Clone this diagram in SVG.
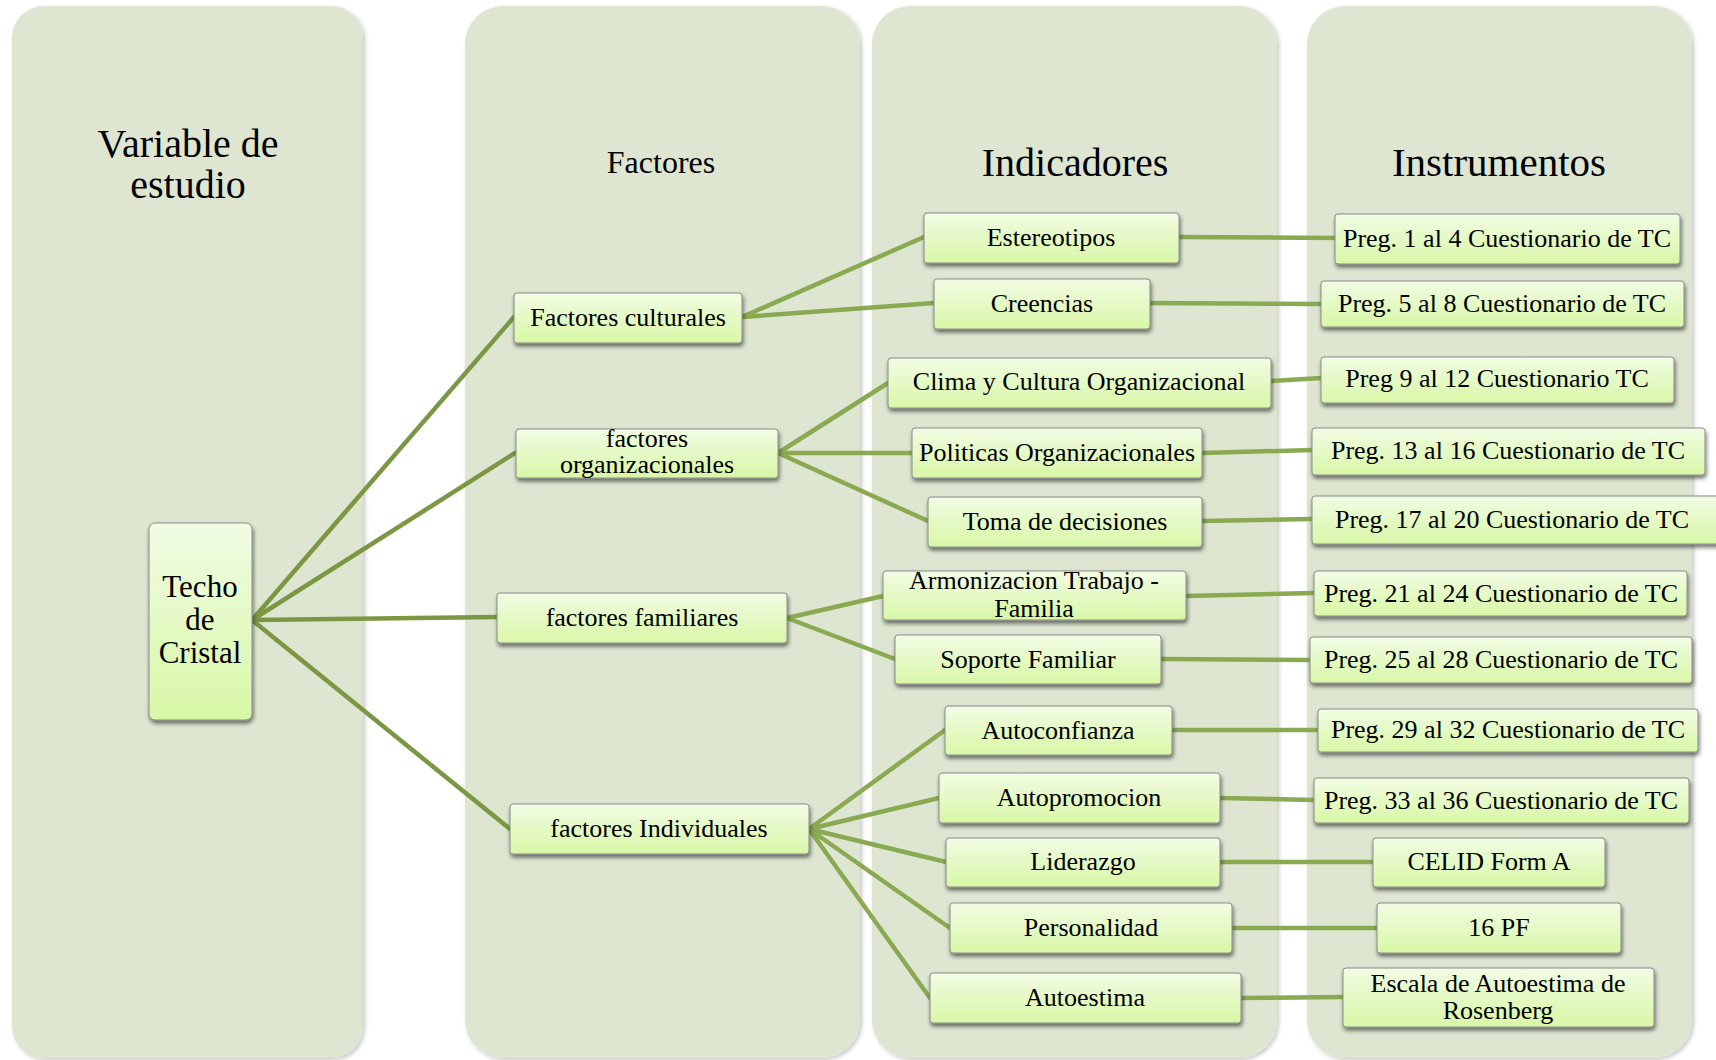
<svg xmlns="http://www.w3.org/2000/svg" width="1716" height="1060" viewBox="0 0 1716 1060">
<defs>
<linearGradient id="ng" x1="0" y1="0" x2="0" y2="1">
<stop offset="0" stop-color="#f1fce4"/>
<stop offset="1" stop-color="#d8f7a6"/>
</linearGradient>
<filter id="cs" x="-5%" y="-5%" width="110%" height="110%">
<feDropShadow dx="2" dy="2" stdDeviation="2" flood-color="#000" flood-opacity="0.22"/>
</filter>
<filter id="ns" x="-10%" y="-20%" width="120%" height="160%">
<feDropShadow dx="1" dy="3" stdDeviation="2" flood-color="#000" flood-opacity="0.55"/>
</filter>
</defs>
<style>
.col{fill:#dee6d2;filter:url(#cs)}
.hd{font-family:"Liberation Serif","Times New Roman",serif;fill:#000;text-anchor:middle}
.box{fill:url(#ng);stroke:#8a8a8a;stroke-width:1;filter:url(#ns)}
.t{font-family:"Liberation Serif","Times New Roman",serif;font-size:26px;fill:#000;text-anchor:middle}
.tb{font-size:31px}
.c1{stroke:#7a9843;stroke-width:4.5;fill:none;stroke-linecap:round}
.c2{stroke:#8aaa52;stroke-width:4.5;fill:none;stroke-linecap:round}
</style>
<rect width="1716" height="1060" fill="#fff"/>
<g id="columns">
<rect class="col" x="12" y="6" width="351" height="1052" rx="32"/>
<rect class="col" x="465" y="6" width="395" height="1052" rx="38"/>
<rect class="col" x="872" y="6" width="405" height="1052" rx="38"/>
<rect class="col" x="1307" y="6" width="385" height="1052" rx="38"/>
</g>
<g id="headings">
<text class="hd" font-size="40" x="188" y="157">Variable de</text>
<text class="hd" font-size="40" x="188" y="198">estudio</text>
<text class="hd" font-size="32" x="661" y="173">Factores</text>
<text class="hd" font-size="40" x="1075" y="176">Indicadores</text>
<text class="hd" font-size="41" x="1499" y="176">Instrumentos</text>
</g>
<g id="connectors">
<path class="c1" d="M252,620 L514,317 M252,620 L515,453 M252,620 L497,617 M252,620 L510,829"/>
<path class="c2" d="M742,317 L924,237 M742,317 L934,303"/>
<path class="c2" d="M778,453 L888,383 M778,453 L912,453 M778,453 L928,521"/>
<path class="c2" d="M787,618 L883,596 M787,618 L895,659"/>
<path class="c2" d="M809,829 L945,730 M809,829 L939,798 M809,829 L946,862 M809,829 L950,928 M809,829 L930,998"/>
<path class="c2" d="M1179,237 L1335,238 M1150,303 L1321,304 M1271,381 L1321,378 M1202,453 L1312,450 M1202,521 L1312,519 M1186,596 L1314,593 M1161,659 L1310,660 M1172,730 L1318,730 M1220,798 L1314,800 M1220,862 L1373,862 M1232,928 L1377,928 M1241,998 L1343,997"/>
</g>
<g id="n-techo">
<rect class="box" x="149" y="523" width="103" height="197" rx="6"/>
<text class="t tb" x="200" y="597">Techo</text>
<text class="t tb" x="200" y="630">de</text>
<text class="t tb" x="200" y="663">Cristal</text>
</g>
<g id="n-fcult"><rect class="box" x="514" y="293" width="228" height="50" rx="3"/><text class="t" x="628" y="326">Factores culturales</text></g>
<g id="n-forg"><rect class="box" x="516" y="429" width="262" height="49" rx="3"/><text class="t" x="647" y="447">factores</text><text class="t" x="647" y="473">organizacionales</text></g>
<g id="n-ffam"><rect class="box" x="497" y="593" width="290" height="50" rx="3"/><text class="t" x="642" y="626">factores familiares</text></g>
<g id="n-find"><rect class="box" x="510" y="804" width="299" height="50" rx="3"/><text class="t" x="659" y="837">factores Individuales</text></g>

<g id="n-estereotipos"><rect class="box" x="924" y="213" width="255" height="50" rx="3"/><text class="t" x="1051" y="246">Estereotipos</text></g>
<g id="n-creencias"><rect class="box" x="934" y="279" width="216" height="50" rx="3"/><text class="t" x="1042" y="312">Creencias</text></g>
<g id="n-clima"><rect class="box" x="888" y="358" width="383" height="50" rx="3"/><text class="t" x="1079" y="390">Clima y Cultura Organizacional</text></g>
<g id="n-politicas"><rect class="box" x="912" y="428" width="290" height="50" rx="3"/><text class="t" x="1057" y="461">Politicas Organizacionales</text></g>
<g id="n-toma"><rect class="box" x="928" y="497" width="274" height="50" rx="3"/><text class="t" x="1065" y="530">Toma de decisiones</text></g>
<g id="n-armonizacion"><rect class="box" x="883" y="571" width="303" height="49" rx="3"/><text class="t" x="1034" y="589">Armonizacion Trabajo -</text><text class="t" x="1034" y="617">Familia</text></g>
<g id="n-soporte"><rect class="box" x="895" y="635" width="266" height="49" rx="3"/><text class="t" x="1028" y="668">Soporte Familiar</text></g>
<g id="n-autoconfianza"><rect class="box" x="945" y="706" width="227" height="49" rx="3"/><text class="t" x="1058" y="739">Autoconfianza</text></g>
<g id="n-autopromocion"><rect class="box" x="939" y="773" width="281" height="50" rx="3"/><text class="t" x="1079" y="806">Autopromocion</text></g>
<g id="n-liderazgo"><rect class="box" x="946" y="838" width="274" height="49" rx="3"/><text class="t" x="1083" y="870">Liderazgo</text></g>
<g id="n-personalidad"><rect class="box" x="950" y="903" width="282" height="50" rx="3"/><text class="t" x="1091" y="936">Personalidad</text></g>
<g id="n-autoestima"><rect class="box" x="930" y="973" width="311" height="50" rx="3"/><text class="t" x="1085" y="1006">Autoestima</text></g>

<g id="n-i1"><rect class="box" x="1335" y="214" width="345" height="50" rx="3"/><text class="t" x="1507" y="247">Preg. 1 al 4 Cuestionario de TC</text></g>
<g id="n-i2"><rect class="box" x="1321" y="281" width="363" height="46" rx="3"/><text class="t" x="1502" y="312">Preg. 5 al 8 Cuestionario de TC</text></g>
<g id="n-i3"><rect class="box" x="1321" y="357" width="353" height="46" rx="3"/><text class="t" x="1497" y="387">Preg 9 al 12 Cuestionario TC</text></g>
<g id="n-i4"><rect class="box" x="1312" y="428" width="393" height="47" rx="3"/><text class="t" x="1508" y="459">Preg. 13 al 16 Cuestionario de TC</text></g>
<g id="n-i5"><rect class="box" x="1312" y="496" width="412" height="48" rx="3"/><text class="t" x="1512" y="528">Preg. 17 al 20 Cuestionario de TC</text></g>
<g id="n-i6"><rect class="box" x="1314" y="571" width="373" height="45" rx="3"/><text class="t" x="1501" y="602">Preg. 21 al 24 Cuestionario de TC</text></g>
<g id="n-i7"><rect class="box" x="1310" y="637" width="382" height="46" rx="3"/><text class="t" x="1501" y="668">Preg. 25 al 28 Cuestionario de TC</text></g>
<g id="n-i8"><rect class="box" x="1318" y="709" width="380" height="43" rx="3"/><text class="t" x="1508" y="738">Preg. 29 al 32 Cuestionario de TC</text></g>
<g id="n-i9"><rect class="box" x="1314" y="778" width="375" height="45" rx="3"/><text class="t" x="1501" y="809">Preg. 33 al 36 Cuestionario de TC</text></g>
<g id="n-celid"><rect class="box" x="1373" y="838" width="232" height="49" rx="3"/><text class="t" x="1489" y="870">CELID Form A</text></g>
<g id="n-16pf"><rect class="box" x="1377" y="903" width="244" height="50" rx="3"/><text class="t" x="1499" y="936">16 PF</text></g>
<g id="n-escala"><rect class="box" x="1343" y="968" width="311" height="59" rx="3"/><text class="t" x="1498" y="992">Escala de Autoestima de</text><text class="t" x="1498" y="1019">Rosenberg</text></g>
</svg>
